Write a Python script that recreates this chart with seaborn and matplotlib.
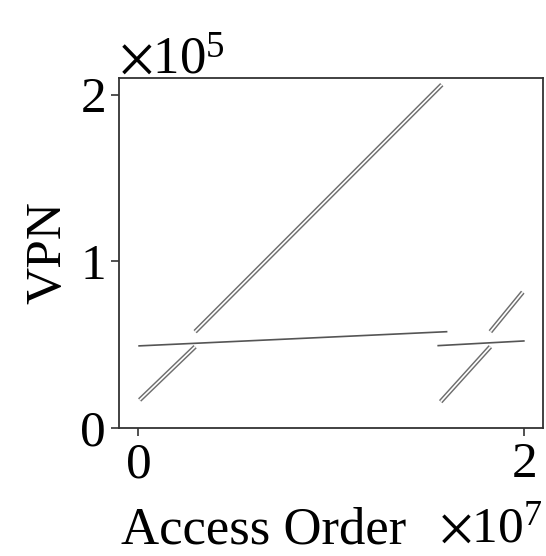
import numpy as np
import pandas as pd
import matplotlib
matplotlib.use("Agg")
import matplotlib.pyplot as plt
import seaborn as sns

# Segment endpoints (x in units of 1e7 accesses, y in units of 1e5 VPN)
seg_names = ["diag1_low", "diag1_high", "diag2_low", "diag2_high", "flat1", "flat2"]
seg_kind = ["diag", "diag", "diag", "diag", "flat", "flat"]
seg_x0 = [0.007, 0.295, 1.569, 1.827, 0.000, 1.552]
seg_x1 = [0.295, 1.575, 1.827, 1.995, 1.604, 2.005]
seg_y0 = [0.168, 0.578, 0.158, 0.578, 0.4925, 0.494]
seg_y1 = [0.488, 2.060, 0.488, 0.815, 0.578, 0.5225]

x_ticks = [0, 2]
y_ticks = [0, 1, 2]

rows = []
for n, k, x0, x1, y0, y1 in zip(seg_names, seg_kind, seg_x0, seg_x1, seg_y0, seg_y1):
    rows.append({"seg": n, "kind": k, "x": x0 * 1e7, "y": y0 * 1e5})
    rows.append({"seg": n, "kind": k, "x": x1 * 1e7, "y": y1 * 1e5})
df = pd.DataFrame(rows)

sns.set_style("ticks")
plt.rcParams["font.family"] = ["serif"]
plt.rcParams["font.serif"] = ["Liberation Serif", "DejaVu Serif"]
plt.rcParams["mathtext.fontset"] = "stix"
plt.rcParams["text.color"] = "black"
plt.rcParams["axes.labelcolor"] = "black"
plt.rcParams["xtick.color"] = "black"
plt.rcParams["ytick.color"] = "black"

fs = 37
fig = plt.figure(figsize=(5.46, 5.56), dpi=100)
ax = fig.add_axes([119 / 546, 1 - 428 / 556, 424 / 546, 350 / 556])

diag = df[df["kind"] == "diag"]
flat = df[df["kind"] == "flat"]
sns.lineplot(data=diag, x="x", y="y", units="seg", estimator=None, sort=False,
             color="#6e6e6e", lw=3.3, solid_capstyle="butt", ax=ax, legend=False)
sns.lineplot(data=diag, x="x", y="y", units="seg", estimator=None, sort=False,
             color="white", lw=1.2, solid_capstyle="butt", ax=ax, legend=False)
sns.lineplot(data=flat, x="x", y="y", units="seg", estimator=None, sort=False,
             color="#555555", lw=1.2, solid_capstyle="butt", ax=ax, legend=False)

ax.set_xlim(-0.1e7, 2.1e7)
ax.set_ylim(0, 2.1e5)
ax.set_xticks([t * 1e7 for t in x_ticks])
ax.set_yticks([t * 1e5 for t in y_ticks])
ax.ticklabel_format(style="sci", scilimits=(0, 0), useMathText=True, axis="both")

ax.tick_params(axis="both", labelsize=fs, length=6, width=1.2, color="#333333", pad=4)
for s in ax.spines.values():
    s.set_linewidth(1.3)
    s.set_color("#333333")
ax.xaxis.get_offset_text().set_fontsize(fs)
ax.yaxis.get_offset_text().set_fontsize(fs + 1)
ax.xaxis.OFFSETTEXTPAD = 13

ax.set_xlabel("Access Order", fontsize=fs + 1, labelpad=13)
ax.xaxis.label.set_x(0.342)
ax.set_ylabel("VPN", fontsize=fs, labelpad=6)

fig.savefig("out.png", dpi=100)
